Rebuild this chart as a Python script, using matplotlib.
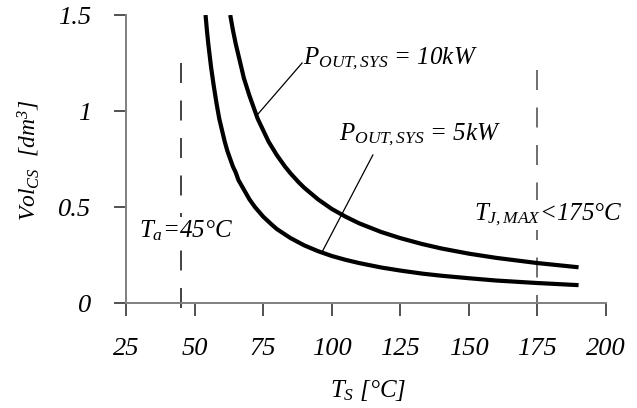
import matplotlib
matplotlib.use("Agg")
import matplotlib.pyplot as plt

# ---- data ----
ts_5kw = [54, 54.5, 55, 56, 57, 58, 59, 60, 61, 62, 63, 64, 65, 66, 68, 70, 72, 75, 78, 80,
          85, 90, 95, 100, 105, 110, 118, 125, 133, 140, 150, 160, 175, 190]
vol_5kw = [1.50, 1.42, 1.35, 1.23, 1.13, 1.04, 0.96, 0.90, 0.84, 0.79, 0.75, 0.71, 0.68, 0.64,
           0.59, 0.54, 0.50, 0.45, 0.41, 0.385, 0.338, 0.30, 0.27, 0.245, 0.225, 0.208,
           0.185, 0.169, 0.153, 0.142, 0.129, 0.117, 0.104, 0.093]
ts_10kw = [63, 63.5, 64, 65, 66, 67, 68, 69, 70, 72, 73, 75, 77, 80, 83, 85, 88, 90, 95, 100,
           105, 110, 118, 125, 133, 140, 150, 160, 175, 190]
vol_10kw = [1.50, 1.46, 1.42, 1.35, 1.29, 1.23, 1.17, 1.125, 1.08, 1.00, 0.96, 0.90, 0.84,
            0.77, 0.71, 0.675, 0.628, 0.60, 0.54, 0.49, 0.45, 0.415, 0.37, 0.338, 0.307,
            0.284, 0.257, 0.235, 0.208, 0.186]
x_ticks = [25, 50, 75, 100, 125, 150, 175, 200]
y_ticks = [0, 0.5, 1, 1.5]
y_tick_labels = ["0", "0.5", "1", "1.5"]
t_ambient = 45
t_jmax = 175

plt.rcParams["font.family"] = ["Liberation Serif", "DejaVu Serif"]
plt.rcParams["font.style"] = "italic"
plt.rcParams["mathtext.fontset"] = "custom"
plt.rcParams["mathtext.it"] = "Liberation Serif:italic"
plt.rcParams["mathtext.rm"] = "Liberation Serif:italic"
plt.rcParams["mathtext.default"] = "it"

W, H = 637, 408
fig = plt.figure(figsize=(W / 100, H / 100), dpi=100)
ax = fig.add_axes([126 / W, 1 - 303 / H, 480 / W, 288 / H])

ax.plot(ts_5kw, vol_5kw, color="black", lw=3.0, solid_capstyle="butt", zorder=3)
ax.plot(ts_10kw, vol_10kw, color="black", lw=3.0, solid_capstyle="butt", zorder=3)

dash = (0, (12, 10.5))
ax.plot([t_ambient, t_ambient], [1.25, -0.052], color="#222222", lw=1.2,
        linestyle=dash, clip_on=False, zorder=2)
ax.plot([t_jmax, t_jmax], [1.214, -0.089], color="#555555", lw=1.2,
        linestyle=dash, clip_on=False, zorder=2)

# leader lines
ax.plot([72.8, 89.2], [0.979, 1.25], color="black", lw=0.9, zorder=3)
ax.plot([96.5, 115.0], [0.266, 0.771], color="black", lw=0.9, zorder=3)

ax.set_xlim(25, 200)
ax.set_ylim(0, 1.5)
ax.set_xticks(x_ticks)
ax.set_yticks(y_ticks)
ax.set_yticklabels(y_tick_labels)

for s in ["top", "right"]:
    ax.spines[s].set_visible(False)
for s in ["left", "bottom"]:
    ax.spines[s].set_color("#808080")
    ax.spines[s].set_linewidth(1.4)
ax.tick_params(axis="both", direction="out", length=9, width=1.2, color="#333333",
               labelsize=19, pad=16)
for lab in ax.get_xticklabels() + ax.get_yticklabels():
    lab.set_fontstyle("italic")
    lab.set_family("Liberation Serif")

fs = 18
wbox = dict(facecolor="white", edgecolor="none", pad=1.5)
ax.text(89.5, 1.245, r"$P_{OUT,SYS}$ = 10kW", fontsize=fs, ha="left", va="baseline")
ax.text(102.5, 0.851, r"$P_{OUT,SYS}$ = 5kW", fontsize=fs, ha="left", va="baseline")
ax.text(29.7, 0.34, r"$T_a$=45°C", fontsize=fs, ha="left", va="baseline",
        bbox=wbox, zorder=4)
ax.text(152.0, 0.43, r"$T_{J,MAX}$<175°C", fontsize=fs, ha="left", va="baseline",
        bbox=wbox, zorder=4)

fig.text(368 / W, 1 - 397 / H, r"$T_S$ [°C]", fontsize=fs, ha="center", va="baseline")
fig.text(29 / W, 1 - 160 / H, r"$Vol_{CS}$  [dm$^3$]", fontsize=17, ha="center",
         va="center", rotation=90)

fig.savefig("out.png", dpi=100)
